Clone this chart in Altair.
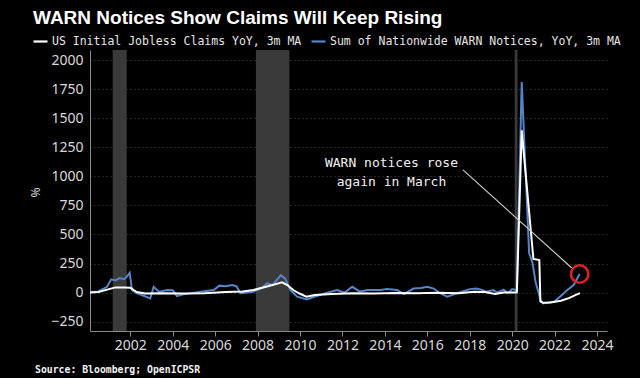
import altair as alt
import pandas as pd
import jinja2

# ---------------- data ----------------
CLAIMS_NAME = "US Initial Jobless Claims YoY, 3m MA"
WARN_NAME = "Sum of Nationwide WARN Notices, YoY, 3m MA"

claims_year = [2000.1, 2000.5, 2001.0, 2001.3, 2001.7, 2002.0, 2002.3, 2002.7, 2003.5,
               2004.5, 2005.5, 2006.5, 2007.3, 2007.8, 2008.4, 2008.9, 2009.15, 2009.4,
               2009.7, 2010.0, 2010.3, 2010.7, 2011.5, 2012.5, 2013.5, 2014.5, 2015.5,
               2016.5, 2017.5, 2018.2, 2018.7, 2019.2, 2019.6, 2020.1, 2020.22, 2020.45,
               2021.0, 2021.28, 2021.33, 2021.45, 2021.8, 2022.3, 2022.7, 2023.0, 2023.2]
claims_val = [0, 5, 30, 45, 45, 42, 5, -8, -5,
              -8, -5, 5, 10, 22, 50, 75, 88, 65,
              20, -10, -35, -20, -12, -5, -8, -3, -5,
              -2, -5, 8, 5, -12, 0, 2, 3, 1395,
              290, 280, -75, -88, -85, -70, -45, -20, -5]

warn_year = [2000.1, 2000.5, 2000.9, 2001.1, 2001.3, 2001.5, 2001.7, 2001.85, 2001.97,
             2002.08, 2002.3, 2002.6, 2002.94, 2003.1, 2003.35, 2003.75, 2004.0, 2004.2,
             2004.5, 2004.85, 2005.4, 2005.93, 2006.2, 2006.5, 2006.8, 2007.0, 2007.2,
             2007.8, 2008.2, 2008.45, 2008.7, 2009.1, 2009.3, 2009.55, 2009.86, 2010.33,
             2010.6, 2011.2, 2011.75, 2012.1, 2012.46, 2012.8, 2013.2, 2013.8, 2014.1,
             2014.58, 2014.9, 2015.35, 2015.7, 2016.0, 2016.3, 2016.6, 2016.94, 2017.4,
             2018.0, 2018.3, 2018.5, 2018.8, 2019.1, 2019.3, 2019.6, 2019.8, 2020.0,
             2020.22, 2020.45, 2020.8, 2020.96, 2021.1, 2021.34, 2021.45, 2022.0, 2022.25,
             2022.6, 2022.9, 2023.18]
warn_val = [5, 10, 50, 114, 105, 125, 115, 140, 170,
            22, -5, -25, -50, 50, 8, 22, 20, -30,
            -15, -5, 10, 22, 60, 55, 65, 55, -5,
            8, 40, 80, 65, 150, 120, 22, -35, -58,
            -40, -5, 22, 0, 50, 10, 22, 22, 30,
            22, -12, 35, 40, 50, 35, -5, -35, -5,
            30, 35, 28, 8, 22, 0, 25, -5, 30,
            20, 1810, 338, 255, 94, -64, -92, -77, -35,
            22, 65, 160]

recession_start = [2001.17, 2007.92, 2020.12]
recession_end = [2001.83, 2009.5, 2020.25]

x_ticks = [2002, 2004, 2006, 2008, 2010, 2012, 2014, 2016, 2018, 2020, 2022, 2024]
y_ticks = [-250, 0, 250, 500, 750, 1000, 1250, 1500, 1750, 2000]

marker_year = [2023.18]
marker_val = [160]

note_lines = ["WARN notices rose", "again in March"]
note_year = [2014.31, 2014.31]
note_val = [1114, 951]

pointer_from = [2017.68, 1055]
pointer_to = [2022.81, 212]

TITLE = "WARN Notices Show Claims Will Keep Rising"
SOURCE = "Source: Bloomberg; OpenICPSR"

# ---------------- tables ----------------
claims_df = pd.DataFrame({"year": claims_year, "value": claims_val, "series": CLAIMS_NAME})
warn_df = pd.DataFrame({"year": warn_year, "value": warn_val, "series": WARN_NAME})
rec_df = pd.DataFrame({"start": recession_start, "end": recession_end})
mark_df = pd.DataFrame({"year": marker_year, "value": marker_val})
note_df = pd.DataFrame({"year": note_year, "value": note_val, "txt": note_lines})
ptr_df = pd.DataFrame({"year": [pointer_from[0]], "value": [pointer_from[1]],
                       "year2": [pointer_to[0]], "value2": [pointer_to[1]]})
src_df = pd.DataFrame({"txt": [SOURCE]})

W, H = 517, 281
xs = alt.Scale(domain=[2000.1, 2024.47], nice=False, zero=False)
ys = alt.Scale(domain=[-330, 2086], nice=False, zero=False)

color = alt.Color(
    "series:N",
    scale=alt.Scale(domain=[CLAIMS_NAME, WARN_NAME], range=["#ffffff", "#5585c8"]),
    legend=alt.Legend(
        title=None, orient="none", legendX=-58, legendY=-17, direction="horizontal",
        symbolType="stroke", symbolSize=196, symbolStrokeWidth=2.2,
        labelFont="DejaVu Sans Mono", labelFontSize=11.5, labelColor="#e6e6e6",
        labelLimit=500, labelOffset=3, columnPadding=5,
    ),
)

x_axis = alt.Axis(values=x_ticks, format="d", title=None, grid=False,
                  labelFont="Noto Sans", labelFontSize=14, labelColor="#d9d9d9",
                  tickColor="#8a8a8a", tickSize=5, labelPadding=2,
                  domainColor="#8a8a8a", labelFlush=False, labelOverlap=False)
y_axis = alt.Axis(values=y_ticks, format="d", title="%", grid=True, gridColor="#4a4a4a",
                  gridDash=[1, 3], ticks=False, tickSize=0, labelPadding=7,
                  labelOverlap=False,
                  labelFont="Noto Sans", labelFontSize=14, labelColor="#d9d9d9",
                  domainColor="#8a8a8a", titleColor="#d9d9d9", titleFont="Noto Sans",
                  titleFontSize=12, titleFontWeight="normal", titleX=-48, titleY=142,
                  titleAngle=-90)

X = alt.X("year:Q", scale=xs, axis=x_axis)
Y = alt.Y("value:Q", scale=ys, axis=y_axis)

rects = alt.Chart(rec_df).mark_rect(color="#3a3a3a").encode(
    x=alt.X("start:Q", scale=xs, axis=x_axis), x2="end:Q")

warn_line = alt.Chart(warn_df).mark_line(strokeWidth=2).encode(x=X, y=Y, color=color)

claims_line = alt.Chart(claims_df).mark_line(strokeWidth=2).encode(x=X, y=Y, color=color)

pointer = alt.Chart(ptr_df).mark_rule(color="#cfc8bc", strokeWidth=1.2).encode(
    x=X, y=Y, x2="year2:Q", y2="value2:Q")

circle = alt.Chart(mark_df).mark_point(shape="circle", filled=False, color="#e3202a",
                                       strokeWidth=2.5, size=300, opacity=1).encode(x=X, y=Y)

note = alt.Chart(note_df).mark_text(font="DejaVu Sans Mono", fontSize=13, color="#f2f2f2",
                                    align="center", baseline="middle").encode(
    x=X, y=Y, text="txt:N")

source = alt.Chart(src_df).mark_text(font="DejaVu Sans Mono", fontSize=9.8, fontWeight="bold",
                                     color="#f2f2f2", align="left", baseline="middle").encode(
    x=alt.value(-55), y=alt.value(320), text="txt:N")

chart = alt.layer(rects, warn_line, claims_line, pointer, circle, note, source).properties(
    width=W, height=H,
    title=alt.TitleParams(TITLE, anchor="start", frame="group", dx=-57,
                          font="Liberation Sans", fontSize=19, fontWeight="bold",
                          color="#ffffff", offset=5),
    autosize=alt.AutoSizeParams(type="none"),
    padding={"left": 82, "top": 42, "right": 25, "bottom": 60},
    background="#000000",
).configure_view(stroke=None).configure_axisY(labelOverlap=False)

PAGE = jinja2.Template("""<!DOCTYPE html>
<html>
<head>
  <meta charset="utf-8">
  <style>
    html, body { background: #000000; }
    #{{ output_div }}.vega-embed { width: 100%; display: flex; }
  </style>
  <script type="text/javascript" src="{{ base_url }}/vega@{{ vega_version }}"></script>
  <script type="text/javascript" src="{{ base_url }}/vega-lite@{{ vegalite_version }}"></script>
  <script type="text/javascript" src="{{ base_url }}/vega-embed@{{ vegaembed_version }}"></script>
</head>
<body>
  <div id="{{ output_div }}"></div>
  <script>
    (function(vegaEmbed) {
      var spec = {{ spec }};
      var embedOpt = {{ embed_options }};
      vegaEmbed("#{{ output_div }}", spec, embedOpt);
    })(vegaEmbed);
  </script>
</body>
</html>""")

try:
    chart.save("out.html", embed_options={"renderer": "svg", "actions": False}, template=PAGE)
except Exception:
    chart.save("out.html", embed_options={"renderer": "svg", "actions": False})
